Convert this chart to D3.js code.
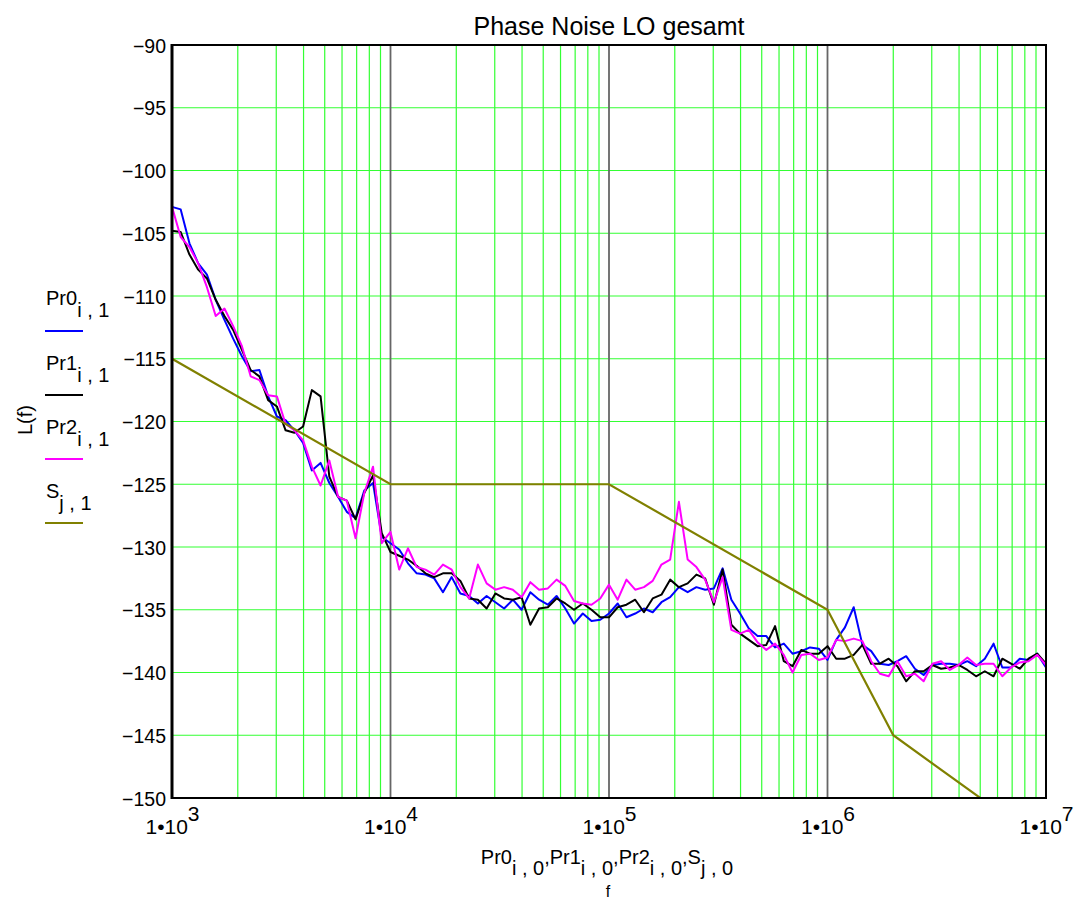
<!DOCTYPE html>
<html><head><meta charset="utf-8">
<script src="https://cdn.jsdelivr.net/npm/d3@7"></script>
<style>
html,body{margin:0;padding:0;background:#fff;}
text{font-family:"Liberation Sans",Arial,sans-serif;fill:#000;}
</style></head>
<body><svg id="c" width="1077" height="899"></svg>
<script>
// ---------- data ----------
const freqs = [1000,1096,1202,1318,1445,1585,1738,1905,2089,2291,2512,2754,3020,3311,3631,3981,4365,4786,5248,5754,6310,6918,7586,8318,9120,
10000,10960,12020,13180,14450,15850,17380,19050,20890,22910,25120,27540,30200,33110,36310,39810,43650,47860,52480,57540,63100,69180,75860,83180,91200,
100000,109600,120200,131800,144500,158500,173800,190500,208900,229100,251200,275400,302000,331100,363100,398100,436500,478600,524800,575400,631000,691800,758600,831800,912000,
1000000,1096000,1202000,1318000,1445000,1585000,1738000,1905000,2089000,2291000,2512000,2754000,3020000,3311000,3631000,3981000,4365000,4786000,5248000,5754000,6310000,6918000,7586000,8318000,9120000,10000000];

const pr0 = [-102.9,-103.1,-105.8,-107.4,-108.3,-110.3,-111.9,-113.4,-114.8,-116,-115.9,-118,-119.6,-119.9,-120.7,-121.7,-123.9,-123.3,-124.9,-126,-127.2,-127.7,-125.5,-124.9,-129.2,
-129.7,-130.2,-131.3,-132.1,-132.2,-132.5,-133.6,-132.4,-133.7,-133.9,-134.5,-133.9,-134.4,-134.9,-134.2,-135,-133.6,-134.2,-134.6,-133.9,-134.9,-136.1,-135.3,-135.9,-135.8,
-135.3,-134.5,-135.6,-135.3,-134.9,-135.2,-134.4,-134.0,-133.2,-133.6,-133.2,-133.4,-133.3,-131.7,-134.2,-135.3,-136.5,-137.1,-137.1,-138,-137.7,-138.5,-138.3,-138,-138.1,
-139,-137.4,-136.4,-134.8,-137.8,-138.3,-139.3,-139.4,-139.1,-138.7,-139.7,-140.2,-139.4,-139.3,-139.3,-139.4,-139.1,-139.5,-138.9,-137.7,-139.6,-139.6,-138.9,-139,-138.5,-139.6];

const pr1 = [-104.8,-104.9,-106.7,-107.9,-108.6,-110.3,-111.6,-112.7,-114.3,-115.9,-116.4,-118.3,-118.8,-120.7,-120.9,-120.4,-117.5,-118,-124.4,-126,-126.3,-127.8,-125.7,-124.3,-128.9,
-130.4,-130.7,-131,-131.5,-132.1,-132.4,-132.1,-132.1,-132.7,-134.1,-134.2,-134.9,-133.7,-134.1,-134.2,-134,-136.2,-134.9,-134.8,-134.1,-134.5,-135,-134.5,-135,-135.6,
-135.6,-134.8,-134.6,-134.2,-135.2,-134.1,-133.8,-132.6,-133.2,-132.9,-132.2,-132.5,-134.6,-131.8,-136.2,-136.9,-137.4,-137.9,-137.8,-136.3,-139.1,-139.5,-138.2,-138.5,-138.5,
-137.9,-138.9,-138.9,-138.6,-137.8,-139.3,-139.3,-138.9,-139.5,-140.7,-139.9,-139.9,-139.4,-139.7,-139.6,-139.4,-139.8,-140.3,-139.9,-140.3,-138.9,-139.3,-139.7,-138.9,-138.5,-139.3];

const pr2 = [-102.9,-105.3,-106.1,-107.4,-109.3,-111.6,-111,-112.4,-114,-116.4,-116.7,-117.9,-118,-120.2,-120.7,-121.5,-123.6,-125.1,-123.1,-126,-126.3,-129.3,-125.7,-123.6,-129.7,
-128.8,-131.8,-130.1,-131.6,-131.8,-132.2,-131.4,-131.8,-133.2,-134.1,-131.4,-132.9,-133.4,-133.2,-133.4,-134,-132.8,-133.4,-133.3,-132.6,-133.1,-134.3,-134.5,-134.6,-134.1,
-133.0,-134.2,-132.6,-133.4,-133.2,-132.7,-131.4,-131.0,-126.4,-131.0,-131.6,-132.6,-134.4,-132.4,-136.6,-136.9,-136.6,-137.6,-138.2,-137.7,-138.6,-140,-138.6,-138.5,-139,
-138.8,-137.4,-137.5,-137.3,-137.5,-139.1,-140.1,-140.3,-139.1,-140.3,-140.1,-140.7,-139.3,-139.1,-139.8,-139.4,-138.8,-139.4,-139.3,-139.3,-140.3,-139.6,-139.2,-139.1,-138.6,-139.4];

const specF = [1e3,1e4,1e5,1e6,2e6,5e6,1e7];
const specL = [-115,-125,-125,-135,-145,-150,-150];

const yTicks = [-150,-145,-140,-135,-130,-125,-120,-115,-110,-105,-100,-95,-90];
const xTicks = [1e3,1e4,1e5,1e6,1e7];
const xExp = ["3","4","5","6","7"];
const seriesNames = ["Pr0","Pr1","Pr2","S"];
const seriesSubs = ["i , 1","i , 1","i , 1","j , 1"];
const seriesColors = ["#0000ff","#000000","#ff00ff","#808000"];

// ---------- chart ----------
const svg = d3.select("#c");
const L=172, R=1046, T=45, B=798;
const x = d3.scaleLog().domain([1e3,1e7]).range([L,R]);
const y = d3.scaleLinear().domain([-150,-90]).range([B,T]);
const FONT = "Liberation Sans, Arial, sans-serif";

// minor vertical grid
const minor = [];
[1e3,1e4,1e5,1e6].forEach(d=>{for(let m=2;m<=9;m++) minor.push(d*m);});
svg.append("g").selectAll("line").data(minor).join("line")
  .attr("x1",d=>x(d)).attr("x2",d=>x(d)).attr("y1",T).attr("y2",B)
  .attr("stroke","#33ff33").attr("stroke-width",1.2);
// horizontal grid
svg.append("g").selectAll("line").data(yTicks.slice(1,-1)).join("line")
  .attr("x1",L).attr("x2",R).attr("y1",d=>y(d)).attr("y2",d=>y(d))
  .attr("stroke","#33ff33").attr("stroke-width",1.2);
// decade lines
svg.append("g").selectAll("line").data(xTicks.slice(1,-1)).join("line")
  .attr("x1",d=>x(d)).attr("x2",d=>x(d)).attr("y1",T).attr("y2",B)
  .attr("stroke","#666666").attr("stroke-width",1.8);

// series
const line = d3.line().x(d=>x(d[0])).y(d=>y(d[1]));
[pr0,pr1,pr2].forEach((arr,k)=>{
  svg.append("path").datum(freqs.map((f,i)=>[f,arr[i]]))
    .attr("d",line).attr("fill","none").attr("stroke",seriesColors[k])
    .attr("stroke-width",2).attr("stroke-linejoin","round");
});
svg.append("path").datum(specF.map((f,i)=>[f,specL[i]]))
  .attr("d",line).attr("fill","none").attr("stroke",seriesColors[3])
  .attr("stroke-width",2.2);

// frame
svg.append("rect").attr("x",L).attr("y",T).attr("width",R-L).attr("height",B-T)
  .attr("fill","none").attr("stroke","#000").attr("stroke-width",2);
svg.append("line").attr("x1",L).attr("x2",L).attr("y1",T-1).attr("y2",B+1)
  .attr("stroke","#000").attr("stroke-width",3);

// y axis
const ya = svg.append("g").attr("transform",`translate(${L},0)`)
  .call(d3.axisLeft(y).tickValues(yTicks).tickSize(0).tickPadding(6)
    .tickFormat(d=>String(d).replace("-","\u2212")));
ya.select(".domain").remove();
ya.selectAll("text").attr("font-size",19.5).attr("font-family",FONT).attr("dy","0.36em");

// x axis
const xa = svg.append("g").attr("transform",`translate(0,${B})`)
  .call(d3.axisBottom(x).tickValues(xTicks).tickSize(0).tickFormat(""));
xa.select(".domain").remove();
xa.selectAll(".tick").each(function(d,i){
  const t = d3.select(this).append("text").attr("y",36).attr("text-anchor","middle")
    .attr("font-size",21).attr("font-family",FONT).attr("fill","#000");
  t.append("tspan").text("1\u202210");
  t.append("tspan").attr("dy",-13).text(xExp[i]);
});

// title
svg.append("text").attr("x",609).attr("y",35).attr("text-anchor","middle")
  .attr("font-size",25).text("Phase Noise LO gesamt");

// y label
svg.append("text").attr("transform","translate(32,420) rotate(-90)")
  .attr("text-anchor","middle").attr("font-size",20).text("L(f)");

// legend
const lg = svg.append("g");
const legTop = [305,370,434,498];
const legLine = [331,395,459,523];
seriesNames.forEach((n,i)=>{
  const t = lg.append("text").attr("x",46).attr("y",legTop[i]).attr("font-size",20);
  t.append("tspan").text(n);
  t.append("tspan").attr("dy",12).text(seriesSubs[i]);
  lg.append("line").attr("x1",45).attr("x2",83).attr("y1",legLine[i]).attr("y2",legLine[i])
    .attr("stroke",seriesColors[i]).attr("stroke-width",2.2);
});

// x label
const xl = svg.append("text").attr("x",607).attr("y",864).attr("text-anchor","middle").attr("font-size",20);
seriesNames.forEach((n,i)=>{
  xl.append("tspan").attr("dy", i===0?0:-11).text((i>0?",":"")+n);
  xl.append("tspan").attr("dy",11).text(i===3?"j , 0":"i , 0");
});
svg.append("text").attr("x",608).attr("y",897).attr("text-anchor","middle").attr("font-size",16).text("f");
</script></body></html>
